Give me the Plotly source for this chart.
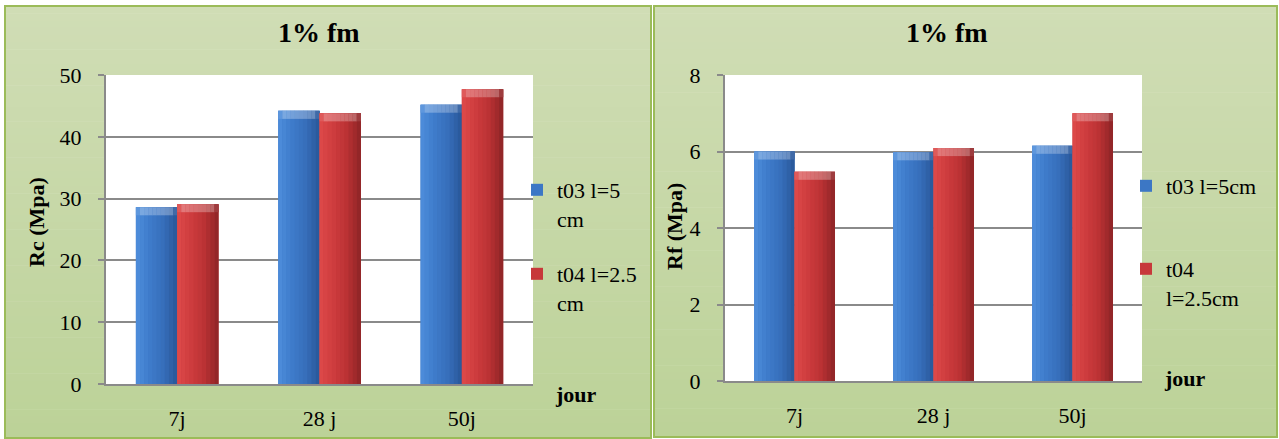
import plotly.graph_objects as go

# ---- data -------------------------------------------------------------
categories = ["7j", "28 j", "50j"]
rc_t03 = [28.6, 44.2, 45.2]      # compressive strength, fibre t03 l=5 cm
rc_t04 = [29.1, 43.8, 47.7]      # compressive strength, fibre t04 l=2.5 cm
rf_t03 = [6.0, 5.98, 6.15]       # flexural strength, fibre t03 l=5 cm
rf_t04 = [5.47, 6.09, 7.0]       # flexural strength, fibre t04 l=2.5 cm
names_rc = ["t03 l=5<br>cm", "t04 l=2.5<br>cm"]
names_rf = ["t03 l=5cm", "t04<br>l=2.5cm"]
rc_ticks = [0, 10, 20, 30, 40, 50]
rf_ticks = [0, 2, 4, 6, 8]
panel_title = "1% fm"
x_title = "jour"
rc_title = "Rc (Mpa)"
rf_title = "Rf (Mpa)"

# ---- styling ----------------------------------------------------------
W, H = 1279, 439
FONT = "Liberation Serif"
GRID = "#8a8a8a"
BORDER = "#9bbb59"
BG_TOP = (208, 221, 181)
BG_BOT = (188, 210, 152)
BLUE = [(78, 142, 220), (62, 124, 203), (55, 110, 186), (40, 86, 152)]
RED = [(222, 74, 74), (206, 60, 62), (186, 50, 52), (140, 36, 38)]
BAR_W = 0.29
N_STRIPS = 10


def px_x(v):
    return v / W


def px_y(v):
    return 1 - v / H


def lerp(a, b, t):
    return tuple(a[i] + (b[i] - a[i]) * t for i in range(3))


def shade(stops, t, lighten=0.0):
    seg = min(int(t * (len(stops) - 1)), len(stops) - 2)
    local = t * (len(stops) - 1) - seg
    c = lerp(stops[seg], stops[seg + 1], local)
    c = lerp(c, (255, 255, 255), lighten)
    return "rgb(%d,%d,%d)" % tuple(round(v) for v in c)


fig = go.Figure()


def add_series(values, stops, offset, name, legend, xa, ya, cap):
    # legend-carrying base bar
    fig.add_trace(go.Bar(
        x=categories, y=values, name=name, legend=legend,
        xaxis=xa, yaxis=ya, width=BAR_W, offset=offset,
        marker=dict(color=shade(stops, 0.45), line=dict(width=0)),
        hoverinfo="skip",
    ))
    # horizontal shading, light on the left, dark on the right
    sw = BAR_W / N_STRIPS
    for k in range(N_STRIPS):
        fig.add_trace(go.Bar(
            x=categories, y=values, showlegend=False,
            xaxis=xa, yaxis=ya, width=sw * 1.05, offset=offset + k * sw,
            marker=dict(color=shade(stops, (k + 0.5) / N_STRIPS), line=dict(width=0)),
            hoverinfo="skip",
        ))
    # bevelled top edge
    tops = [v - cap for v in values]
    for k in range(N_STRIPS):
        t = (k + 0.5) / N_STRIPS
        light = 0.28 if 0.12 < t < 0.88 else 0.1
        fig.add_trace(go.Bar(
            x=categories, y=[cap] * len(values), base=tops, showlegend=False,
            xaxis=xa, yaxis=ya, width=sw * 1.05, offset=offset + k * sw,
            marker=dict(color=shade(stops, t, light), line=dict(width=0)),
            hoverinfo="skip",
        ))


add_series(rc_t03, BLUE, -BAR_W, names_rc[0], "legend", "x", "y", 1.3)
add_series(rc_t04, RED, 0.0, names_rc[1], "legend2", "x", "y", 1.3)
add_series(rf_t03, BLUE, -BAR_W, names_rf[0], "legend3", "x2", "y2", 0.21)
add_series(rf_t04, RED, 0.0, names_rf[1], "legend4", "x2", "y2", 0.21)

# ---- panel backgrounds -------------------------------------------------
shapes = []
panels = [(5, 651, 6, 438), (654, 1277, 6, 437)]
N_BG = 60
for (x0, x1, y0, y1) in panels:
    step = (y1 - y0) / N_BG
    for i in range(N_BG):
        c = lerp(BG_TOP, BG_BOT, i / (N_BG - 1))
        shapes.append(dict(
            type="rect", xref="paper", yref="paper", layer="below",
            x0=px_x(x0), x1=px_x(x1),
            y0=px_y(y0 + i * step), y1=px_y(y0 + (i + 1) * step + 0.6),
            fillcolor="rgb(%d,%d,%d)" % tuple(round(v) for v in c),
            line=dict(width=0),
        ))
    shapes.append(dict(
        type="rect", xref="paper", yref="paper", layer="below",
        x0=px_x(x0), x1=px_x(x1), y0=px_y(y0), y1=px_y(y1),
        fillcolor="rgba(0,0,0,0)", line=dict(color=BORDER, width=2),
    ))
# white plotting areas
for xr, yr in [("x domain", "y domain"), ("x2 domain", "y2 domain")]:
    shapes.append(dict(
        type="rect", xref=xr, yref=yr, layer="below",
        x0=0, x1=1, y0=0, y1=1, fillcolor="white", line=dict(width=0),
    ))

# ---- axes --------------------------------------------------------------
tick_font = dict(family=FONT, size=22, color="black")
xaxis_common = dict(
    type="category", showgrid=False, zeroline=False, showline=True,
    linecolor=GRID, linewidth=2, ticks="", tickfont=tick_font,
    ticklabelstandoff=14, fixedrange=True, automargin=False,
)
yaxis_common = dict(
    showgrid=True, gridcolor=GRID, gridwidth=1.5, zeroline=False,
    showline=True, linecolor=GRID, linewidth=2, ticks="outside",
    ticklen=6, tickwidth=1.5, tickcolor=GRID, tickfont=tick_font,
    ticklabelstandoff=12, tickmode="array", fixedrange=True, automargin=False,
)

fig.update_layout(
    width=W, height=H, autosize=False,
    margin=dict(l=0, r=0, t=0, b=0, pad=0, autoexpand=False),
    paper_bgcolor="white", plot_bgcolor="white",
    barmode="overlay", showlegend=True,
    font=dict(family=FONT, color="black"),
    xaxis=dict(domain=[px_x(106), px_x(533)], anchor="y", **xaxis_common),
    yaxis=dict(domain=[px_y(384), px_y(75)], anchor="x", range=[0, 50],
               tickvals=rc_ticks, **yaxis_common),
    xaxis2=dict(domain=[px_x(725), px_x(1142)], anchor="y2", **xaxis_common),
    yaxis2=dict(domain=[px_y(381), px_y(75)], anchor="x2", range=[0, 8],
                tickvals=rf_ticks, **yaxis_common),
    shapes=shapes,
)

legend_common = dict(
    bgcolor="rgba(0,0,0,0)", borderwidth=0, font=dict(family=FONT, size=22),
    xanchor="left", yanchor="top", valign="top", itemwidth=30,
    itemclick=False, itemdoubleclick=False,
)
fig.update_layout(
    legend=dict(x=px_x(517), y=px_y(169), **legend_common),
    legend2=dict(x=px_x(517), y=px_y(253), **legend_common),
    legend3=dict(x=px_x(1126), y=px_y(165), **legend_common),
    legend4=dict(x=px_x(1126), y=px_y(248), **legend_common),
)

# ---- titles and labels --------------------------------------------------
ann = []
for cx in (319, 947):
    ann.append(dict(
        text="<b>%s</b>" % panel_title, x=px_x(cx), y=px_y(32),
        xref="paper", yref="paper", xanchor="center", yanchor="middle",
        showarrow=False, font=dict(family=FONT, size=28, color="black"),
    ))
for text, cx, cy in [(rc_title, 36, 222), (rf_title, 674, 227)]:
    ann.append(dict(
        text="<b>%s</b>" % text, x=px_x(cx), y=px_y(cy),
        xref="paper", yref="paper", xanchor="center", yanchor="middle",
        textangle=-90, showarrow=False,
        font=dict(family=FONT, size=22, color="black"),
    ))
for lx, ly in [(553, 394), (1162, 378)]:
    ann.append(dict(
        text="<b>%s</b>" % x_title, x=px_x(lx), y=px_y(ly),
        xref="paper", yref="paper", xanchor="left", yanchor="middle",
        showarrow=False, font=dict(family=FONT, size=22, color="black"),
    ))
fig.update_layout(annotations=ann)

fig.write_html("out.html")
